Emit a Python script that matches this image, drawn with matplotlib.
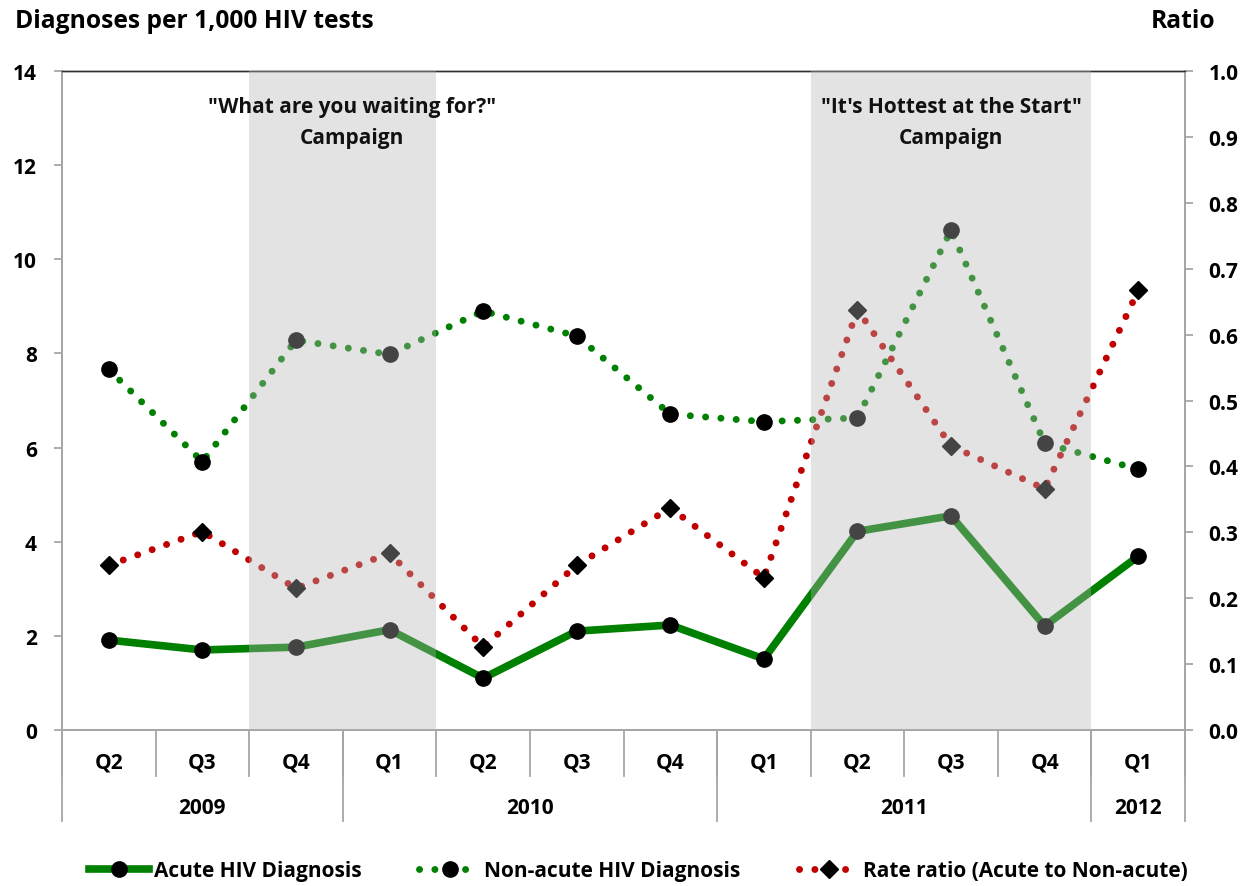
import matplotlib
matplotlib.use("Agg")
import matplotlib.pyplot as plt
from matplotlib.lines import Line2D
from matplotlib.transforms import blended_transform_factory

plt.rcParams['font.family'] = ['Open Sans', 'DejaVu Sans']
plt.rcParams['font.weight'] = 'bold'

# Data
quarters = ["Q2", "Q3", "Q4", "Q1", "Q2", "Q3", "Q4", "Q1", "Q2", "Q3", "Q4", "Q1"]
years = ["2009", "2010", "2011", "2012"]
year_spans = [(0, 2), (3, 6), (7, 10), (11, 11)]
acute = [1.91, 1.70, 1.76, 2.13, 1.10, 2.10, 2.23, 1.51, 4.22, 4.55, 2.21, 3.69]
non_acute = [7.66, 5.70, 8.28, 7.98, 8.90, 8.37, 6.71, 6.55, 6.63, 10.62, 6.09, 5.54]
rate_ratio = [0.250, 0.301, 0.215, 0.268, 0.126, 0.250, 0.337, 0.231, 0.638, 0.431, 0.366, 0.667]
campaigns = [
    ('"What are you waiting for?"\nCampaign', 2, 3, 2.6),
    ('"It\'s Hottest at the Start"\nCampaign', 8, 10, 9.0),
]

GREEN = "#008000"
RED = "#c00000"
SPINE = "#a6a6a6"
FS = 15
TITLE_FS = 17.7

fig = plt.figure(figsize=(12.47, 8.87), dpi=100)
ax = fig.add_axes([0.0497, 0.1759, 0.9006, 0.7429])
ax2 = ax.twinx()

x = list(range(len(quarters)))
dot = (0, (0.01, 2.2))

ax.plot(x, non_acute, color=GREEN, lw=5, linestyle=dot, dash_capstyle='round',
        marker='o', ms=11, mfc='black', mec='black', zorder=3)
ax.plot(x, acute, color=GREEN, lw=5.5, solid_capstyle='round',
        marker='o', ms=11, mfc='black', mec='black', zorder=4)
ax2.plot(x, rate_ratio, color=RED, lw=5, linestyle=dot, dash_capstyle='round',
         marker='D', ms=9, mfc='black', mec='black', zorder=3)

# Campaign periods as a translucent overlay
for label, start, end, cx in campaigns:
    ax2.axvspan(start - 0.5, end + 0.5, color="#b5b5b5", alpha=0.376, lw=0, zorder=10)
    ax2.text(cx, 0.9226, label, ha='center', va='center', fontsize=FS,
             fontweight='bold', color='#111111', linespacing=1.6, zorder=11)

ax.set_xlim(-0.5, len(quarters) - 0.5)
ax.set_ylim(0, 14)
ax.set_yticks(range(0, 15, 2))
ax2.set_ylim(0, 1.0)
ax2.set_yticks([i / 10 for i in range(11)])
ax2.set_yticklabels([f"{i / 10:.1f}" for i in range(11)])

for a in (ax, ax2):
    for side in ('left', 'right', 'bottom'):
        a.spines[side].set_color(SPINE)
        a.spines[side].set_linewidth(1.3)
    a.spines['top'].set_color('#303030')
    a.spines['top'].set_linewidth(1.0)
    a.set_xticks([])
ax.tick_params(axis='y', direction='out', length=6, width=1.3, color=SPINE,
               pad=12, labelsize=FS)
ax2.tick_params(axis='y', direction='out', length=6, width=1.3, color=SPINE,
                pad=11, labelsize=FS)
for lab in ax.get_yticklabels() + ax2.get_yticklabels():
    lab.set_fontweight('bold')

# Two-level category axis
tr = blended_transform_factory(ax.transData, ax.transAxes)
q_depth = -0.0698
y_depth = -0.138
for k in range(len(quarters) + 1):
    ax.plot([k - 0.5, k - 0.5], [0, q_depth], transform=tr, color=SPINE,
            lw=1.3, clip_on=False)
for i, q in enumerate(quarters):
    ax.text(i, -0.048, q, transform=tr, ha='center', va='center',
            fontsize=FS, fontweight='bold')
bounds = [-0.5] + [e + 0.5 for _, e in year_spans]
for b in bounds:
    ax.plot([b, b], [0, y_depth], transform=tr, color=SPINE, lw=1.3, clip_on=False)
for yr, (s, e) in zip(years, year_spans):
    ax.text((s + e) / 2, -0.118, yr, transform=tr, ha='center', va='center',
            fontsize=FS, fontweight='bold')

# Axis titles
fig.text(15 / 1247, 1 - 22 / 887, "Diagnoses per 1,000 HIV tests", ha='left',
         va='center', fontsize=TITLE_FS, fontweight='bold')
fig.text(1215 / 1247, 1 - 22 / 887, "Ratio", ha='right', va='center',
         fontsize=TITLE_FS, fontweight='bold')

handles = [
    Line2D([], [], color=GREEN, lw=5.5, marker='o', ms=11, mfc='black', mec='black'),
    Line2D([], [], color=GREEN, lw=5, linestyle=dot, dash_capstyle='round',
           marker='o', ms=11, mfc='black', mec='black'),
    Line2D([], [], color=RED, lw=5, linestyle=dot, dash_capstyle='round',
           marker='D', ms=9, mfc='black', mec='black'),
]
labels = ["Acute HIV Diagnosis", "Non-acute HIV Diagnosis",
          "Rate ratio (Acute to Non-acute)"]
leg = fig.legend(handles, labels, loc='center', bbox_to_anchor=(0.512, 0.017),
                 ncol=3, frameon=False, fontsize=FS, handlelength=2.9,
                 handletextpad=0.2, columnspacing=2.8, borderaxespad=0)
for t in leg.get_texts():
    t.set_fontweight('bold')

fig.savefig("out.png", dpi=100)
